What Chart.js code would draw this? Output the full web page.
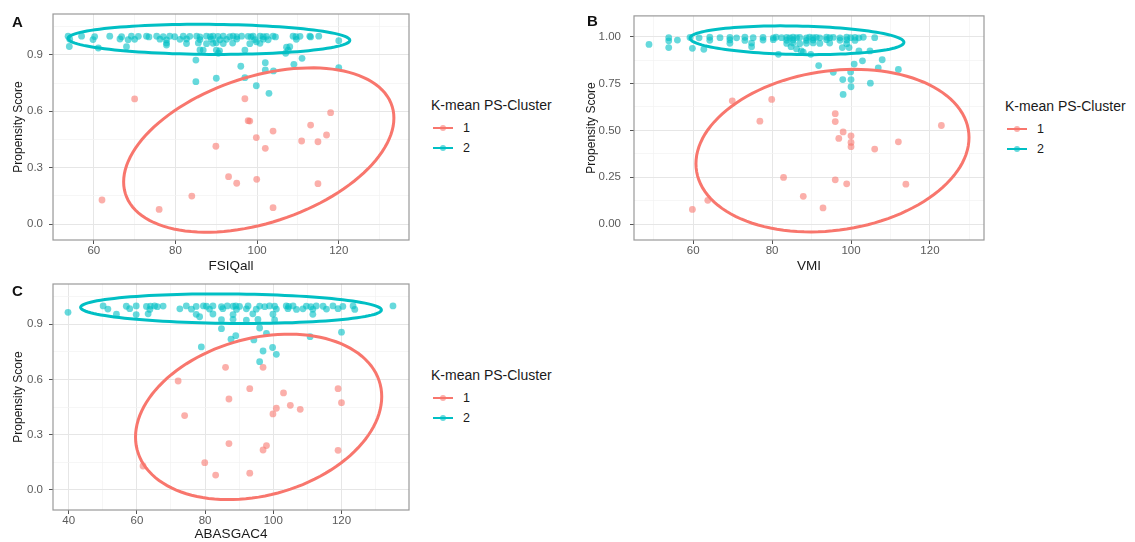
<!DOCTYPE html>
<html>
<head>
<meta charset="utf-8">
<script src="https://cdn.jsdelivr.net/npm/chart.js@4.4.1/dist/chart.umd.min.js"></script>
<style>
  body { margin: 0; background: #fff; font-family: "Liberation Sans", Arial, sans-serif; }
  #page { position: relative; width: 1135px; height: 542px; overflow: hidden; }
  canvas { position: absolute; }
  .tag { position: absolute; font-weight: bold; font-size: 15px; line-height: 15px; color: #111; }
  .legend { position: absolute; color: #1a1a1a; }
  .legend .ttl { font-size: 14px; line-height: 15px; margin-bottom: 5px; white-space: nowrap; }
  .legend .item { height: 20px; line-height: 20px; font-size: 12.5px; display: flex; align-items: center; }
  .legend .key { position: relative; width: 20px; height: 20px; margin-left: 2px; margin-right: 10px; }
  .legend .key .ln { position: absolute; left: 0; right: 0; top: 9px; height: 2px; }
  .legend .key .dt { position: absolute; left: 7px; top: 7px; width: 6px; height: 6px; border-radius: 50%; }
</style>
</head>
<body>
<div id="page">
  <canvas id="cA" width="420" height="276" style="left:0;top:0"></canvas>
  <canvas id="cB" width="415" height="276" style="left:580px;top:0"></canvas>
  <canvas id="cC" width="420" height="272" style="left:0;top:270px"></canvas>
  <div class="tag" style="left:12px;top:14px">A</div>
  <div class="tag" style="left:587px;top:13px">B</div>
  <div class="tag" style="left:12px;top:283px">C</div>
  <div class="legend" id="lA" style="left:431px;top:98px"></div>
  <div class="legend" id="lB" style="left:1005px;top:99px"></div>
  <div class="legend" id="lC" style="left:431px;top:368px"></div>
</div>
<script>
const clusterNames = ['1', '2'];

// FSIQall vs propensity score
const fsiqX1 = [70.0, 97.0, 97.8, 98.2, 118.0, 113.1, 103.9, 117.0, 99.8, 110.9, 114.9, 89.9, 102.0,
  93.0, 95.0, 99.9, 114.9, 84.0, 62.0, 76.0, 103.9];
const fsiqY1 = [0.666, 0.667, 0.550, 0.548, 0.593, 0.527, 0.495, 0.474, 0.460, 0.442, 0.438, 0.414, 0.403,
  0.252, 0.217, 0.238, 0.215, 0.149, 0.128, 0.078, 0.087];
const fsiqX2 = [53.7, 57.0, 60.2, 63.9, 66.8, 69.2, 70.9, 72.9, 73.5, 75.4, 77.0, 78.6, 79.8, 81.9, 83.5, 85.2,
  86.0, 87.6, 88.5, 89.2, 90.4, 91.7, 93.3, 94.1, 95.0, 96.2, 97.8, 98.5, 99.0, 100.7, 101.5, 102.3, 103.9,
  104.5, 108.8, 109.5, 110.5, 112.9, 113.1, 115.1,
  54.1, 59.8, 66.4, 68.4, 70.0, 76.2, 77.8, 81.1, 82.7, 86.0, 88.8, 90.9, 92.5, 95.0, 99.4, 101.5, 102.7,
  109.6, 120.0,
  77.8, 82.7, 85.6, 87.6, 89.2, 90.0, 91.7, 94.0, 98.2, 99.8, 100.7,
  54.0, 61.1, 68.0, 107.2, 86.8, 90.0, 90.8, 97.0, 107.6, 86.0, 90.5, 107.0, 108.0, 77.8,
  85.0, 96.0, 102.0, 102.0, 104.0, 109.0, 111.0, 120.0, 85.0, 90.0, 97.0, 99.8, 102.9];
const fsiqY2 = [1.000, 1.000, 0.998, 1.000, 0.997, 1.000, 0.999, 1.000, 0.996, 1.000, 0.998, 1.000, 0.997,
  1.000, 0.999, 1.000, 0.996, 1.000, 0.998, 1.000, 0.999, 1.000, 0.997, 1.000, 0.998, 1.000, 0.999, 0.996,
  1.000, 1.000, 0.997, 0.999, 1.000, 0.996, 1.000, 0.997, 0.999, 1.000, 0.996, 1.000,
  0.984, 0.982, 0.985, 0.981, 0.983, 0.984, 0.980, 0.983, 0.985, 0.982, 0.984, 0.981, 0.983, 0.985, 0.982,
  0.984, 0.981, 0.983, 0.976,
  0.963, 0.961, 0.964, 0.960, 0.962, 0.965, 0.961, 0.963, 0.960, 0.970, 0.962,
  0.945, 0.937, 0.944, 0.941, 0.926, 0.926, 0.922, 0.926, 0.926, 0.927, 0.909, 0.909, 0.944, 0.953,
  0.873, 0.840, 0.859, 0.820, 0.815, 0.850, 0.882, 0.833, 0.758, 0.776, 0.779, 0.736, 0.696];

// VMI vs propensity score
const vmiX1 = [69.9, 79.9, 76.9, 96.0, 96.0, 98.0, 100.0, 96.9, 100.0, 100.0, 106.0, 112.0, 122.9,
  82.9, 96.0, 98.9, 113.9, 87.9, 63.7, 59.8, 92.9];
const vmiY1 = [0.658, 0.665, 0.549, 0.589, 0.547, 0.492, 0.471, 0.457, 0.436, 0.413, 0.400, 0.439, 0.526,
  0.249, 0.236, 0.215, 0.213, 0.148, 0.127, 0.078, 0.086];
const vmiX2 = [53.8, 59.2, 61.5, 64.2, 66.8, 69.3, 71.0, 73.1, 75.2, 77.7, 80.3, 81.0, 82.4, 83.7, 84.5, 85.3,
  86.2, 87.0, 88.7, 89.5, 90.4, 91.2, 92.1, 93.8, 94.6, 95.5, 97.2, 98.9, 99.9, 101.0, 102.0, 103.1, 106.0,
  53.8, 56.0, 64.2, 69.3, 73.1, 77.7, 80.3, 83.7, 85.3, 88.7, 90.4, 93.8, 97.2, 98.9, 101.0,
  48.8, 69.3, 74.8, 83.7, 85.3, 87.0, 88.7, 90.4, 92.1, 94.6, 98.9,
  53.8, 59.8, 62.7, 74.8, 84.8, 86.2, 87.4, 97.8, 99.5, 102.0, 104.8, 89.8, 87.9, 81.6,
  91.8, 95.5, 99.9, 100.8, 102.9, 107.9, 106.9, 112.0, 97.9, 100.0, 100.0, 104.9, 98.0];
const vmiY2 = [0.995, 0.996, 0.994, 0.997, 0.995, 0.996, 0.994, 0.997, 0.995, 0.996, 0.994, 0.997, 0.995,
  0.996, 0.994, 0.997, 0.995, 0.996, 0.994, 0.997, 0.995, 0.996, 0.994, 0.997, 0.995, 0.996, 0.994, 0.997,
  0.995, 0.996, 0.994, 0.997, 0.995,
  0.978, 0.982, 0.981, 0.983, 0.980, 0.982, 0.984, 0.981, 0.983, 0.980, 0.982, 0.984, 0.981, 0.983, 0.980,
  0.959, 0.965, 0.966, 0.964, 0.966, 0.963, 0.965, 0.967, 0.964, 0.966, 0.963,
  0.942, 0.938, 0.933, 0.947, 0.947, 0.935, 0.924, 0.942, 0.942, 0.924, 0.924, 0.906, 0.917, 0.906,
  0.846, 0.810, 0.811, 0.854, 0.871, 0.877, 0.834, 0.825, 0.771, 0.771, 0.733, 0.752, 0.692];

// ABASGAC4 vs propensity score
const abasX1 = [86.0, 97.0, 72.1, 93.1, 119.0, 103.0, 87.0, 120.0, 105.0, 100.9, 107.9, 99.9, 74.0,
  87.0, 98.0, 97.0, 119.0, 79.9, 61.8, 83.1, 93.1];
const abasY1 = [0.666, 0.666, 0.592, 0.550, 0.550, 0.527, 0.494, 0.474, 0.460, 0.444, 0.438, 0.413, 0.404,
  0.252, 0.241, 0.217, 0.215, 0.148, 0.130, 0.081, 0.091];
const abasX2 = [50.1, 56.9, 59.8, 62.8, 64.0, 65.2, 66.0, 67.7, 74.5, 77.4, 79.5, 80.4, 82.3, 84.8, 86.5, 88.2,
  89.0, 90.1, 92.6, 96.0, 97.5, 98.9, 100.4, 103.8, 104.5, 105.8, 109.7, 111.0, 112.6, 114.6, 117.5, 120.4,
  123.4,
  51.5, 57.9, 63.8, 72.6, 76.0, 81.3, 85.2, 89.2, 92.1, 95.0, 100.9, 104.3, 106.8, 108.7, 111.6, 115.6, 119.0,
  123.9,
  54.0, 59.8, 63.3, 77.4, 82.3, 88.2, 94.0, 99.9, 111.6,
  84.8, 88.2, 92.1, 95.5, 100.4, 78.4,
  39.8, 135.1, 120.0, 110.8, 78.9, 89.0, 87.6, 96.0, 98.0, 99.8, 100.9, 97.0, 96.0, 84.8, 94.3];
const abasY2 = [1.000, 0.998, 1.000, 0.997, 0.999, 1.000, 0.996, 0.999, 1.000, 0.997, 1.000, 0.998, 1.000,
  0.996, 1.000, 0.998, 1.000, 0.997, 1.000, 0.999, 0.996, 1.000, 0.998, 1.000, 0.997, 1.000, 0.999, 0.996,
  1.000, 0.998, 1.000, 0.997, 1.000,
  0.983, 0.985, 0.981, 0.984, 0.982, 0.983, 0.985, 0.981, 0.984, 0.982, 0.983, 0.985, 0.981, 0.984, 0.982,
  0.983, 0.985, 0.981,
  0.955, 0.953, 0.957, 0.954, 0.956, 0.953, 0.957, 0.955, 0.954,
  0.925, 0.927, 0.923, 0.926, 0.924, 0.941,
  0.965, 1.000, 0.857, 0.833, 0.777, 0.838, 0.819, 0.880, 0.851, 0.774, 0.737, 0.755, 0.697, 0.876, 0.815];

// axis breaks
const fsiqTicks = [60, 80, 100, 120], fsiqMinor = [50, 70, 90, 110, 130];
const vmiTicks = [60, 80, 100, 120], vmiMinor = [50, 70, 90, 110, 130];
const abasTicks = [40, 60, 80, 100, 120], abasMinor = [50, 70, 90, 110, 130];
const psTicks = [0, 0.3, 0.6, 0.9], psMinor = [0.15, 0.45, 0.75, 1.05];
const psTicksVmi = [0, 0.25, 0.5, 0.75, 1], psMinorVmi = [0.125, 0.375, 0.625, 0.875];

// 95% ellipses: centre x, centre y, x half-width, y offset at x extreme, y spread
const fsiqEll1 = [100.4, 0.394, 33.1, 0.170, 0.403], fsiqEll2 = [88.2, 0.983, 34.5, -0.005, 0.080];
const vmiEll1 = [95.3, 0.392, 34.6, 0.070, 0.428], vmiEll2 = [86.3, 0.981, 27.1, -0.011, 0.076];
const abasEll1 = [95.7, 0.397, 36.1, 0.110, 0.436], abasEll2 = [87.6, 0.985, 44.1, -0.007, 0.080];

const red = '#F8766D', teal = '#00BFC4';
const redPt = 'rgba(248,118,109,0.58)', tealPt = 'rgba(0,191,196,0.6)';
const font = '"Liberation Sans", Arial, sans-serif';

const ellipsePlugin = {
  id: 'ellipses',
  afterDatasetsDraw(chart) {
    const {ctx, chartArea: a, scales: {x, y}} = chart;
    ctx.save();
    ctx.beginPath();
    ctx.rect(a.left, a.top, a.right - a.left, a.bottom - a.top);
    ctx.clip();
    chart.data.datasets.forEach(ds => {
      const [cx, cy, ax, ay, by] = ds.ellipse;
      ctx.beginPath();
      for (let i = 0; i <= 120; i++) {
        const t = i / 120 * Math.PI * 2;
        const px = x.getPixelForValue(cx + ax * Math.cos(t));
        const py = y.getPixelForValue(cy + ay * Math.cos(t) + by * Math.sin(t));
        if (i) ctx.lineTo(px, py); else ctx.moveTo(px, py);
      }
      ctx.closePath();
      ctx.lineWidth = 3;
      ctx.strokeStyle = ds.borderColor;
      ctx.stroke();
    });
    ctx.restore();
  }
};

const boxPlugin = {
  id: 'panelBox',
  afterDraw(chart) {
    const {ctx, chartArea: a} = chart;
    ctx.save();
    ctx.strokeStyle = '#9a9a9a';
    ctx.lineWidth = 1.2;
    ctx.strokeRect(a.left, a.top, a.right - a.left, a.bottom - a.top);
    ctx.restore();
  }
};

function points(xs, ys) {
  return xs.map((v, i) => ({x: v, y: ys[i]}));
}

function axis(o) {
  const all = o.major.concat(o.minor).sort((p, q) => p - q);
  const isMajor = c => c.tick && o.major.includes(c.tick.value);
  return {
    type: 'linear',
    position: o.pos,
    min: o.min,
    max: o.max,
    afterBuildTicks: s => { s.ticks = all.filter(v => v >= o.min && v <= o.max).map(v => ({value: v})); },
    afterFit: s => { if (o.pos === 'left') s.width = o.size; else s.height = o.size; },
    ticks: {
      autoSkip: false,
      maxRotation: 0,
      padding: o.pad,
      color: '#5a5a5a',
      font: {family: font, size: 11.5},
      callback: v => o.major.includes(v) ? v.toFixed(o.dec) : ''
    },
    grid: {
      color: c => isMajor(c) ? '#e6e6e6' : '#f2f2f2',
      lineWidth: c => isMajor(c) ? 1 : 0.7,
      tickColor: c => isMajor(c) ? '#555' : 'rgba(0,0,0,0)',
      tickWidth: 1,
      tickLength: 4
    },
    border: {display: false},
    title: {
      display: true,
      text: o.title,
      color: '#1a1a1a',
      font: {family: font, size: o.pos === 'left' ? 12 : 13.5},
      padding: o.titlePad
    }
  };
}

function panel(id, legendId, d) {
  const chart = new Chart(document.getElementById(id), {
    type: 'scatter',
    data: {
      datasets: [
        {label: clusterNames[0], data: points(d.x1, d.y1), backgroundColor: redPt, borderColor: red,
          borderWidth: 0, pointRadius: 3.4, pointHoverRadius: 3.4, ellipse: d.e1},
        {label: clusterNames[1], data: points(d.x2, d.y2), backgroundColor: tealPt, borderColor: teal,
          borderWidth: 0, pointRadius: 3.4, pointHoverRadius: 3.4, ellipse: d.e2}
      ]
    },
    options: {
      responsive: false,
      animation: false,
      layout: {padding: d.padding},
      plugins: {legend: {display: false}, tooltip: {enabled: false}},
      scales: {
        x: axis(d.xAxis),
        y: axis(d.yAxis)
      }
    },
    plugins: [ellipsePlugin, boxPlugin]
  });

  // legend built from the chart's own datasets
  const box = document.getElementById(legendId);
  let html = '<div class="ttl">K-mean PS-Cluster</div>';
  chart.data.datasets.forEach(ds => {
    html += '<div class="item"><span class="key"><span class="ln" style="background:' + ds.borderColor +
      '"></span><span class="dt" style="background:' + ds.backgroundColor + '"></span></span>' + ds.label + '</div>';
  });
  box.innerHTML = html;
  return chart;
}

panel('cA', 'lA', {
  x1: fsiqX1, y1: fsiqY1, x2: fsiqX2, y2: fsiqY2, e1: fsiqEll1, e2: fsiqEll2,
  padding: {top: 14, right: 11, left: 0, bottom: 0},
  xAxis: {pos: 'bottom', min: 50, max: 137.2, major: fsiqTicks, minor: fsiqMinor, dec: 0, size: 36, pad: 0,
    title: 'FSIQall', titlePad: {top: 0, bottom: 2}},
  yAxis: {pos: 'left', min: -0.085, max: 1.118, major: psTicks, minor: psMinor, dec: 1, size: 53, pad: 6,
    title: 'Propensity Score', titlePad: {top: 11, bottom: 0}}
});

panel('cB', 'lB', {
  x1: vmiX1, y1: vmiY1, x2: vmiX2, y2: vmiY2, e1: vmiEll1, e2: vmiEll2,
  padding: {top: 14, right: 11, left: 0, bottom: 0},
  xAxis: {pos: 'bottom', min: 45, max: 133.7, major: vmiTicks, minor: vmiMinor, dec: 0, size: 36, pad: 0,
    title: 'VMI', titlePad: {top: 0, bottom: 2}},
  yAxis: {pos: 'left', min: -0.085, max: 1.111, major: psTicksVmi, minor: psMinorVmi, dec: 2, size: 54, pad: 9,
    title: 'Propensity Score', titlePad: {top: 4, bottom: 0}}
});

panel('cC', 'lC', {
  x1: abasX1, y1: abasY1, x2: abasX2, y2: abasY2, e1: abasEll1, e2: abasEll2,
  padding: {top: 14, right: 11, left: 0, bottom: 0},
  xAxis: {pos: 'bottom', min: 35.4, max: 139.8, major: abasTicks, minor: abasMinor, dec: 0, size: 32, pad: 0,
    title: 'ABASGAC4', titlePad: {top: 0, bottom: 0}},
  yAxis: {pos: 'left', min: -0.109, max: 1.119, major: psTicks, minor: psMinor, dec: 1, size: 53, pad: 6,
    title: 'Propensity Score', titlePad: {top: 11, bottom: 0}}
});
</script>
</body>
</html>
